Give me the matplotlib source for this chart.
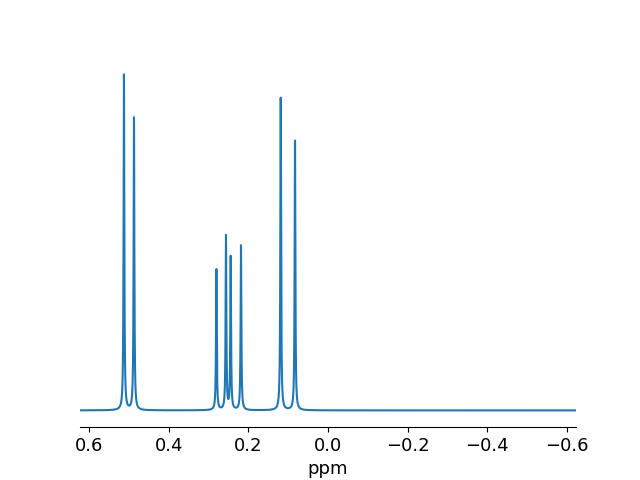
import numpy as np
import matplotlib.pyplot as plt

# peak list (ppm, relative intensity)
peak_ppm = [0.5126, 0.4874, 0.2804, 0.2563, 0.2445, 0.2186, 0.1188, 0.0829]
peak_int = [336, 293, 141, 174, 153, 165, 313, 270]
HWHM = 0.0011          # lorentzian half width (ppm)
PPM_MIN, PPM_MAX = -0.623, 0.623


def lorentz_spectrum(x, centers, heights, w):
    y = np.zeros_like(x)
    for c, h in zip(centers, heights):
        y += h * w**2 / ((x - c)**2 + w**2)
    return y


x = np.linspace(PPM_MAX, PPM_MIN, 40000)
y = lorentz_spectrum(x, peak_ppm, peak_int, HWHM)

fig, ax = plt.subplots(figsize=(6.4, 4.8), dpi=100)
ax.plot(x, y, color="tab:blue", linewidth=1.5)
ax.set_xlim(PPM_MAX, PPM_MIN)
ax.set_xlabel("ppm", fontsize=13)
ax.tick_params(axis="x", labelsize=13)
ax.set_yticks([])
for side in ["left", "top", "right"]:
    ax.spines[side].set_visible(False)

plt.savefig("out.png", dpi=100)
